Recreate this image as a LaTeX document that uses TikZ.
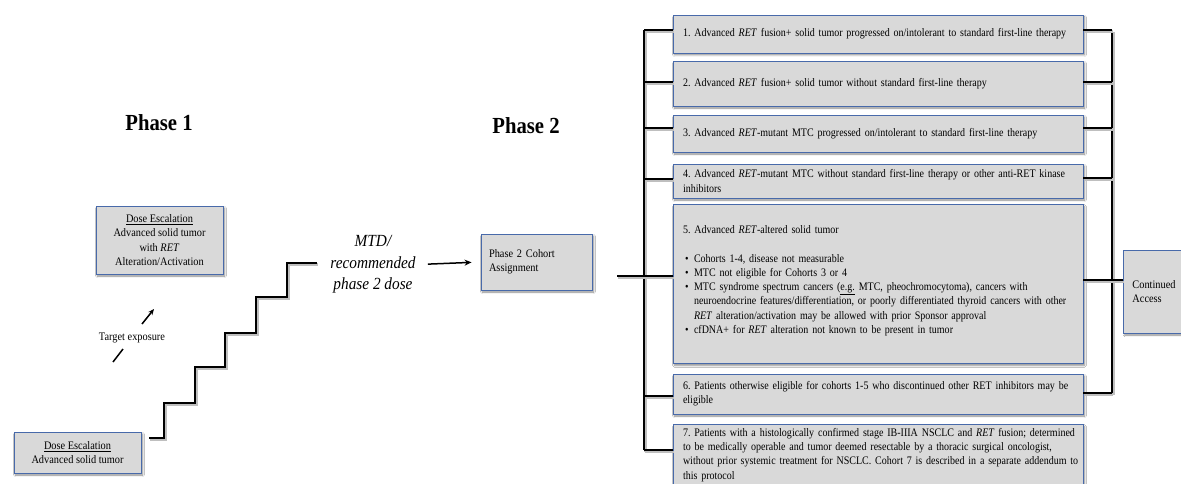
\documentclass[tikz,border=0pt]{standalone}
\usepackage{fontspec}
\setmainfont{Liberation Serif}[FakeStretch=0.9]
\newfontfamily\cohortfont{Liberation Serif}[FakeStretch=0.87]
\usetikzlibrary{arrows.meta,calc,shadows.blur}
\definecolor{boxg}{RGB}{217,217,217}
\definecolor{bord}{RGB}{72,106,170}
\newcommand{\txt}{\fontsize{11.5}{14.2}\selectfont}
\newcommand{\ctxt}{\cohortfont\fontsize{11.5}{14.2}\selectfont\frenchspacing}
\newcommand{\bul}{\hspace*{2pt}\makebox[9pt][l]{\textbullet}}
\newcommand{\ind}{\hspace*{11pt}}
\begin{document}
\begin{tikzpicture}[x=1pt,y=-1pt,
  cbox/.style={draw=bord, fill=boxg, line width=0.9pt,
    blur shadow={shadow xshift=1.5pt, shadow yshift=-2pt, shadow blur steps=5, shadow opacity=45},
    text width=390pt, inner xsep=10pt, inner ysep=3pt, align=left, font=\ctxt},
  sbox/.style={draw=bord, fill=boxg, line width=0.9pt,
    blur shadow={shadow xshift=1.5pt, shadow yshift=-2pt, shadow blur steps=5, shadow opacity=45},
    font=\txt},
  wire/.style={line width=1.4pt, black,
    preaction={draw=black!25, line width=2.6pt, transform canvas={shift={(1.2pt,-1.8pt)}}}},
  stair/.style={line width=1.9pt, black,
    preaction={draw=black!25, line width=3pt, transform canvas={shift={(1.2pt,-1.8pt)}}}},
  arr/.style={line width=1.5pt, -{Stealth[length=7pt,width=6pt]}},
  title/.style={font=\fontsize{23}{27}\selectfont\bfseries}
]
\useasboundingbox (0,0) rectangle (1181,484);
\fill[white] (0,0) rectangle (1181,484);

% Titles
\node[title] (ph1) at (159,123) {Phase 1};
\node[title] (ph2) at (526,126) {Phase 2};

% Phase 1 boxes
\node[sbox, minimum width=127pt, minimum height=41pt, align=center, inner sep=2pt] (d1) at (77.5,452.5)
  {\underline{Dose Escalation}\\Advanced solid tumor};
\node[sbox, minimum width=127pt, minimum height=68pt, align=center, inner sep=2pt] (d2) at (159.5,240)
  {\underline{Dose Escalation}\\Advanced solid tumor\\with \textit{RET}\\Alteration/Activation};

% Target exposure
\node[font=\txt, inner sep=1pt] (te) at (132,338) {Target exposure};
\coordinate (ta1) at (113,362);
\coordinate (ta2) at (123,349);
\coordinate (ta3) at (142,324);
\coordinate (ta4) at (154,309);
\draw[line width=1.5pt] (ta1) -- (ta2);
\draw[arr, -{Stealth[length=6pt,width=5pt]}] (ta3) -- (ta4);

% Staircase
\coordinate (st0) at (149,438);
\draw[stair] (st0) -- ++(15,0) -- ++(0,-35) -- ++(31,0) -- ++(0,-36) -- ++(30,0)
  -- ++(0,-34) -- ++(31,0) -- ++(0,-36) -- ++(31,0) -- ++(0,-34) -- ++(30,0);

% MTD
\node[font=\fontsize{17}{21.5}\selectfont\itshape, align=center, inner sep=3pt] (mtd) at (373,264.5)
  {MTD/\\recommended\\phase 2 dose};

% Phase 2 cohort assignment
\node[sbox, minimum width=111pt, minimum height=56pt, text width=95pt, inner xsep=8pt, align=left] (p2) at (536.5,262)
  {Phase 2 Cohort\\Assignment};
\draw[arr, shorten <=9pt, shorten >=9pt] (mtd.east) -- (p2.west);

% Cohort boxes
\node[cbox, minimum height=38pt] (b1) at (878,34)
  {\mbox{1. Advanced \textit{RET} fusion+ solid tumor progressed on/intolerant to standard first-line therapy}};
\node[cbox, minimum height=45pt] (b2) at (878,83.5)
  {\mbox{2. Advanced \textit{RET} fusion+ solid tumor without standard first-line therapy}};
\node[cbox, minimum height=37pt] (b3) at (878,133.5)
  {\mbox{3. Advanced \textit{RET}-mutant MTC progressed on/intolerant to standard first-line therapy}};
\node[cbox, minimum height=34pt, inner ysep=1pt] (b4) at (878,181)
  {\mbox{4. Advanced \textit{RET}-mutant MTC without standard first-line therapy or other anti-RET kinase}\\
   \mbox{inhibitors}};
\node[cbox, anchor=north, minimum height=159pt, inner ysep=20pt] (b5) at (878,204)
  {\mbox{5. Advanced \textit{RET}-altered solid tumor}\\[14.6pt]
   \mbox{\bul Cohorts 1-4, disease not measurable}\\
   \mbox{\bul MTC not eligible for Cohorts 3 or 4}\\
   \mbox{\bul MTC syndrome spectrum cancers (\underline{e.g.} MTC, pheochromocytoma), cancers with}\\
   \mbox{\ind neuroendocrine features/differentiation, or poorly differentiated thyroid cancers with other}\\
   \mbox{\ind \textit{RET} alteration/activation may be allowed with prior Sponsor approval}\\
   \mbox{\bul cfDNA+ for \textit{RET} alteration not known to be present in tumor}\\[-5pt]
   \mbox{}};
\node[cbox, minimum height=40pt, inner ysep=1pt] (b6) at (878,394)
  {\mbox{6. Patients otherwise eligible for cohorts 1-5 who discontinued other RET inhibitors may be}\\
   \mbox{eligible}};
\node[cbox, anchor=north, inner ysep=4pt] (b7) at (878,424)
  {\mbox{7. Patients with a histologically confirmed stage IB-IIIA NSCLC and \textit{RET} fusion; determined}\\
   \mbox{to be medically operable and tumor deemed resectable by a thoracic surgical oncologist,}\\
   \mbox{without prior systemic treatment for NSCLC. Cohort 7 is described in a separate addendum to}\\
   \mbox{this protocol}};

% Continued access
\node[sbox, anchor=west, minimum height=83pt, text width=72pt, inner xsep=9pt, align=left] (ca) at (1123,291.5)
  {Continued\\Access};

% Left bracket
\coordinate (in5) at (617,276);
\draw[wire] (644,30) -- (644,450);
\draw[wire] (644,30) -- (b1.west |- 0,30);
\draw[wire] (644,82) -- (b2.west |- 0,82);
\draw[wire] (644,128) -- (b3.west |- 0,128);
\draw[wire] (644,179) -- (b4.west |- 0,179);
\draw[wire] (in5) -- (b5.west |- in5);
\draw[wire] (644,396) -- (b6.west |- 0,396);
\draw[wire] (644,450) -- (b7.west |- 0,450);

% Right bracket
\draw[wire] (1112,30) -- (1112,393);
\draw[wire] (b1.east |- 0,30) -- (1112,30);
\draw[wire] (b2.east |- 0,82) -- (1112,82);
\draw[wire] (b3.east |- 0,128) -- (1112,128);
\draw[wire] (b4.east |- 0,178) -- (1112,178);
\draw[wire] (b6.east |- 0,393) -- (1112,393);
\draw[wire] (b5.east |- 0,280) -- (ca.west |- 0,280);
\end{tikzpicture}
\end{document}
